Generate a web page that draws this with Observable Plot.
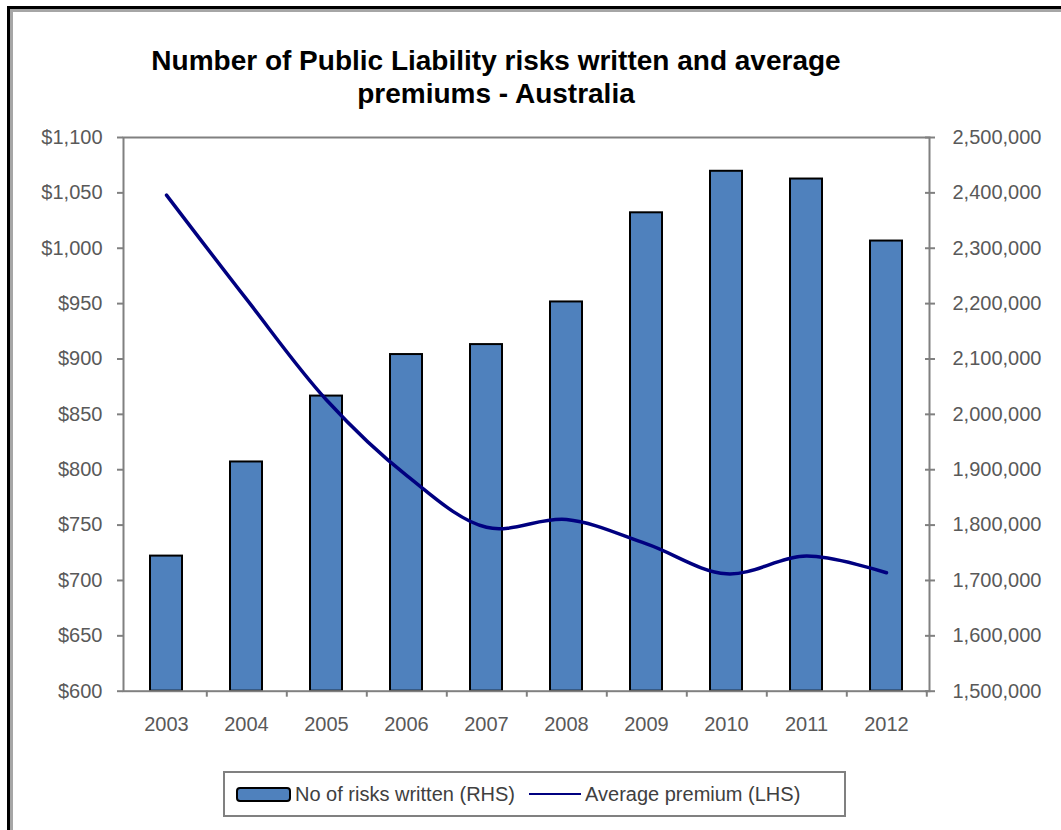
<!DOCTYPE html>
<html>
<head>
<meta charset="utf-8">
<script src="https://cdn.jsdelivr.net/npm/d3@7"></script>
<script src="https://cdn.jsdelivr.net/npm/@observablehq/plot@0.6"></script>
<style>
  body { margin: 0; background: #fff; font-family: "Liberation Sans", Arial, sans-serif; }
  #wrap { position: relative; width: 1061px; height: 830px; overflow: hidden; background: #fff; }
  #frame { position: absolute; left: 7px; top: 6px; width: 1100px; height: 900px;
           border: 3px solid #000; box-shadow: inset 3px 3px 0 #a6a6a6; }
  #title { position: absolute; left: 96px; width: 800px; top: 44px; text-align: center;
           font-weight: bold; font-size: 28px; line-height: 33px; color: #000; }
  #chart { position: absolute; left: 0; top: 0; }
  #legend { position: absolute; left: 223px; top: 771px; width: 619px; height: 42px;
            border: 2px solid #808080; display: flex; align-items: center;
            font-size: 20px; color: #404040; white-space: nowrap; }
  .swatch { display: inline-block; width: 51px; height: 11px; background: #4F81BD;
            border: 2px solid #000; border-radius: 4px; margin-left: 11px; margin-right: 4px; }
  .lineKey { display: inline-block; width: 52px; height: 2px; background: #000080;
             margin-left: 14px; margin-right: 4px; }
</style>
</head>
<body>
<div id="wrap">
  <div id="frame"></div>
  <div id="title">Number of Public Liability risks written and average<br>premiums - Australia</div>
  <div id="chart"></div>
  <div id="legend">
    <span class="swatch"></span><span>No of risks written (RHS)</span>
    <span class="lineKey"></span><span>Average premium (LHS)</span>
  </div>
</div>
<script>
// Years on the category axis
const years = ["2003", "2004", "2005", "2006", "2007", "2008", "2009", "2010", "2011", "2012"];
// Number of public liability risks written (right-hand axis)
const risksWritten = [1744000, 1914000, 2033000, 2108000, 2126000, 2203000, 2364000, 2439000, 2425000, 2313000];
// Average premium in dollars (left-hand axis)
const averagePremium = [1048, 954, 863, 795, 748, 755, 733, 706, 722, 707];
// Axis tick values
const premiumTicks = [600, 650, 700, 750, 800, 850, 900, 950, 1000, 1050, 1100];
const riskTicks = [1500000, 1600000, 1700000, 1800000, 1900000, 2000000, 2100000, 2200000, 2300000, 2400000, 2500000];

// The risk counts share the premium y scale: 1,500,000–2,500,000 maps onto $600–$1,100
const riskToPremium = r => 600 + (r - 1500000) / 2000;
const premiumToRisk = p => (p - 600) * 2000 + 1500000;

const table = years.map((year, i) => ({year, risks: risksWritten[i], premium: averagePremium[i]}));

const W = 1061, H = 760;
const mLeft = 123, mRight = 132, mTop = 137, mBottom = H - 690.7;
const halfStep = (W - mLeft - mRight) / years.length / 2;
const axisGrey = "#808080";
const noText = () => "";

const chart = Plot.plot({
  width: W,
  height: H,
  marginLeft: mLeft,
  marginRight: mRight,
  marginTop: mTop,
  marginBottom: mBottom,
  style: {fontFamily: "Liberation Sans, Arial, sans-serif", fontSize: "20px", color: "#595959", background: "transparent"},
  x: {domain: years, paddingInner: 0.6, paddingOuter: 0.3, label: null},
  y: {domain: [600, 1100], label: null},
  marks: [
    Plot.barY(table, {x: "year", y1: 600, y2: d => riskToPremium(d.risks), fill: "#4F81BD", stroke: "#000", strokeWidth: 2}),
    Plot.line(table, {x: "year", y: "premium", stroke: "#000080", strokeWidth: 3.5, curve: "catmull-rom"}),
    Plot.frame({stroke: axisGrey, strokeWidth: 2}),
    // left axis: average premium
    Plot.axisY({anchor: "left", ticks: premiumTicks, tickSize: 6, stroke: axisGrey, strokeWidth: 2, tickFormat: noText, label: null}),
    Plot.axisY({anchor: "left", ticks: premiumTicks, tickSize: 0, tickPadding: 21, tickFormat: d3.format("$,"), label: null}),
    // right axis: number of risks written (ticks cross the axis line)
    Plot.axisY({anchor: "right", ticks: riskTicks.map(riskToPremium), tickSize: 10, dx: -5, stroke: axisGrey, strokeWidth: 2, tickFormat: noText, label: null}),
    Plot.axisY({anchor: "right", ticks: riskTicks.map(riskToPremium), tickSize: 0, tickPadding: 23, tickFormat: p => d3.format(",")(premiumToRisk(p)), label: null}),
    // bottom axis: labels centred on the years, ticks between categories
    Plot.axisX({anchor: "bottom", tickSize: 6, dx: halfStep, stroke: axisGrey, strokeWidth: 2, tickFormat: noText, label: null}),
    Plot.axisX({anchor: "bottom", tickSize: 0, tickPadding: 26, label: null})
  ]
});
document.getElementById("chart").append(chart);
</script>
</body>
</html>
